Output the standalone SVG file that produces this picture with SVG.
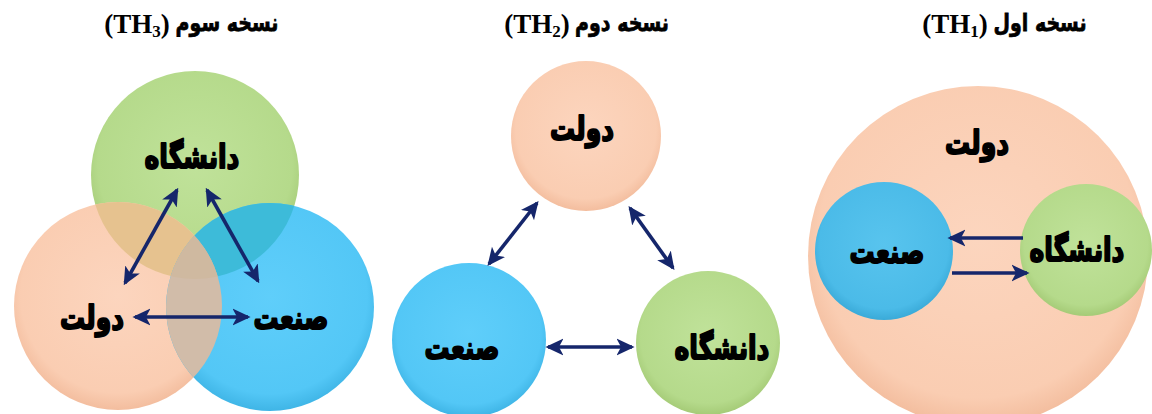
<svg xmlns="http://www.w3.org/2000/svg" width="1152" height="414" viewBox="0 0 1152 414">
<style>
.fa{font-family:"DejaVu Sans","Noto Sans",sans-serif;font-weight:bold;fill:#000;text-anchor:middle}
.lat{font-family:"Liberation Serif","Times New Roman",serif;font-weight:bold;fill:#000;text-anchor:middle}
.lbl{font-size:25px;stroke:#000;stroke-width:1.5px;stroke-linejoin:round}
.ttl{font-size:19px;stroke:#000;stroke-width:0.6px}
.con{stroke:#15266b;stroke-width:3.6;fill:none}
.both{marker-start:url(#ah);marker-end:url(#ah)}
.one{marker-end:url(#ah)}
</style>
<defs>
<radialGradient id="gP" cx="50%" cy="45%" r="55%"><stop offset="0" stop-color="#fcd5be"/><stop offset="0.85" stop-color="#facdb2"/><stop offset="1" stop-color="#f3bd9e"/></radialGradient>
<radialGradient id="gG" cx="50%" cy="45%" r="55%"><stop offset="0" stop-color="#c0e29a"/><stop offset="0.85" stop-color="#b5da8b"/><stop offset="1" stop-color="#a5cb77"/></radialGradient>
<radialGradient id="gB" cx="50%" cy="45%" r="55%"><stop offset="0" stop-color="#5fcefa"/><stop offset="0.85" stop-color="#53c7f6"/><stop offset="1" stop-color="#3fb5e6"/></radialGradient>
<radialGradient id="gB1" cx="50%" cy="45%" r="55%"><stop offset="0" stop-color="#58c4ee"/><stop offset="0.85" stop-color="#4bbbe8"/><stop offset="1" stop-color="#3aaad8"/></radialGradient>
<clipPath id="cG"><circle cx="195" cy="175" r="104"/></clipPath>
<clipPath id="cP"><circle cx="118" cy="306" r="104"/></clipPath>
<clipPath id="cB"><circle cx="270" cy="307" r="104"/></clipPath>
<marker id="ah" viewBox="0 0 14 14" markerWidth="18" markerHeight="18" refX="12" refY="7" orient="auto-start-reverse" markerUnits="userSpaceOnUse"><path d="M0,0.5 L14,7 L0,13.5 L3.5,7 z" fill="#15266b"/></marker>
</defs>
<rect width="1152" height="414" fill="#fff"/>

<g id="title-th3"><text class="fa ttl" transform="translate(227 31) scale(1 1.25)">نسخه سوم</text><text class="lat" font-size="27" x="137" y="33">(TH<tspan font-size="17" dy="4">3</tspan><tspan dy="-4">)</tspan></text></g>
<g id="title-th2"><text class="fa ttl" transform="translate(622 31) scale(1 1.25)">نسخه دوم</text><text class="lat" font-size="27" x="537" y="33">(TH<tspan font-size="17" dy="4">2</tspan><tspan dy="-4">)</tspan></text></g>
<g id="title-th1"><text class="fa ttl" transform="translate(1040 31) scale(1 1.25)">نسخه اول</text><text class="lat" font-size="27" x="955" y="33">(TH<tspan font-size="17" dy="4">1</tspan><tspan dy="-4">)</tspan></text></g>

<!-- TH3 -->
<g id="th3-daneshgah"><circle cx="195" cy="175" r="104" fill="url(#gG)"/></g>
<g id="th3-dolat"><circle cx="118" cy="306" r="104" fill="url(#gP)"/></g>
<g id="th3-sanat"><circle cx="270" cy="307" r="104" fill="url(#gB)"/></g>
<g id="th3-overlaps">
<circle cx="118" cy="306" r="104" fill="#e6c28f" clip-path="url(#cG)"/>
<circle cx="270" cy="307" r="104" fill="#3dbbd9" clip-path="url(#cG)"/>
<circle cx="270" cy="307" r="104" fill="#d1bca9" clip-path="url(#cP)"/>
<g clip-path="url(#cG)"><circle cx="118" cy="306" r="104" fill="#cfb9a0" clip-path="url(#cB)"/></g>
</g>
<g id="th3-labels">
<text class="fa lbl" transform="translate(192 168) scale(1 1.3)">دانشگاه</text>
<text class="fa lbl" transform="translate(92 329) scale(1 1.3)">دولت</text>
<text class="fa lbl" transform="translate(291 329) scale(1 1.3)">صنعت</text>
</g>

<!-- TH2 -->
<g id="th2-dolat"><circle cx="586" cy="136" r="75" fill="url(#gP)"/><text class="fa lbl" transform="translate(582 140) scale(1 1.3)">دولت</text></g>
<g id="th2-sanat"><circle cx="469" cy="340" r="77" fill="url(#gB)"/><text class="fa lbl" transform="translate(462 359) scale(1 1.3)">صنعت</text></g>
<g id="th2-daneshgah"><circle cx="708" cy="343" r="72" fill="url(#gG)"/><text class="fa lbl" transform="translate(722 359) scale(1 1.3)">دانشگاه</text></g>

<!-- TH1 -->
<g id="th1-dolat"><circle cx="978" cy="256" r="170" fill="url(#gP)"/><text class="fa lbl" transform="translate(977 154) scale(1 1.3)">دولت</text></g>
<g id="th1-sanat"><circle cx="884" cy="251" r="69" fill="url(#gB1)"/><text class="fa lbl" transform="translate(887 263) scale(1 1.3)">صنعت</text></g>
<g id="th1-daneshgah"><circle cx="1086" cy="250" r="66" fill="url(#gG)"/><text class="fa lbl" transform="translate(1077 261) scale(1 1.3)">دانشگاه</text></g>

<g id="connectors">
<line class="con both" x1="177" y1="190" x2="125" y2="283"/>
<line class="con both" x1="207" y1="190" x2="258" y2="281"/>
<line class="con both" x1="135" y1="317" x2="248" y2="317"/>
<line class="con both" x1="537" y1="203" x2="489" y2="264"/>
<line class="con both" x1="630" y1="208" x2="673" y2="268"/>
<line class="con both" x1="548" y1="347" x2="632" y2="347"/>
<line class="con one" x1="1023" y1="238" x2="950" y2="238"/>
<line class="con one" x1="952" y1="273" x2="1027" y2="273"/>
</g>
</svg>
